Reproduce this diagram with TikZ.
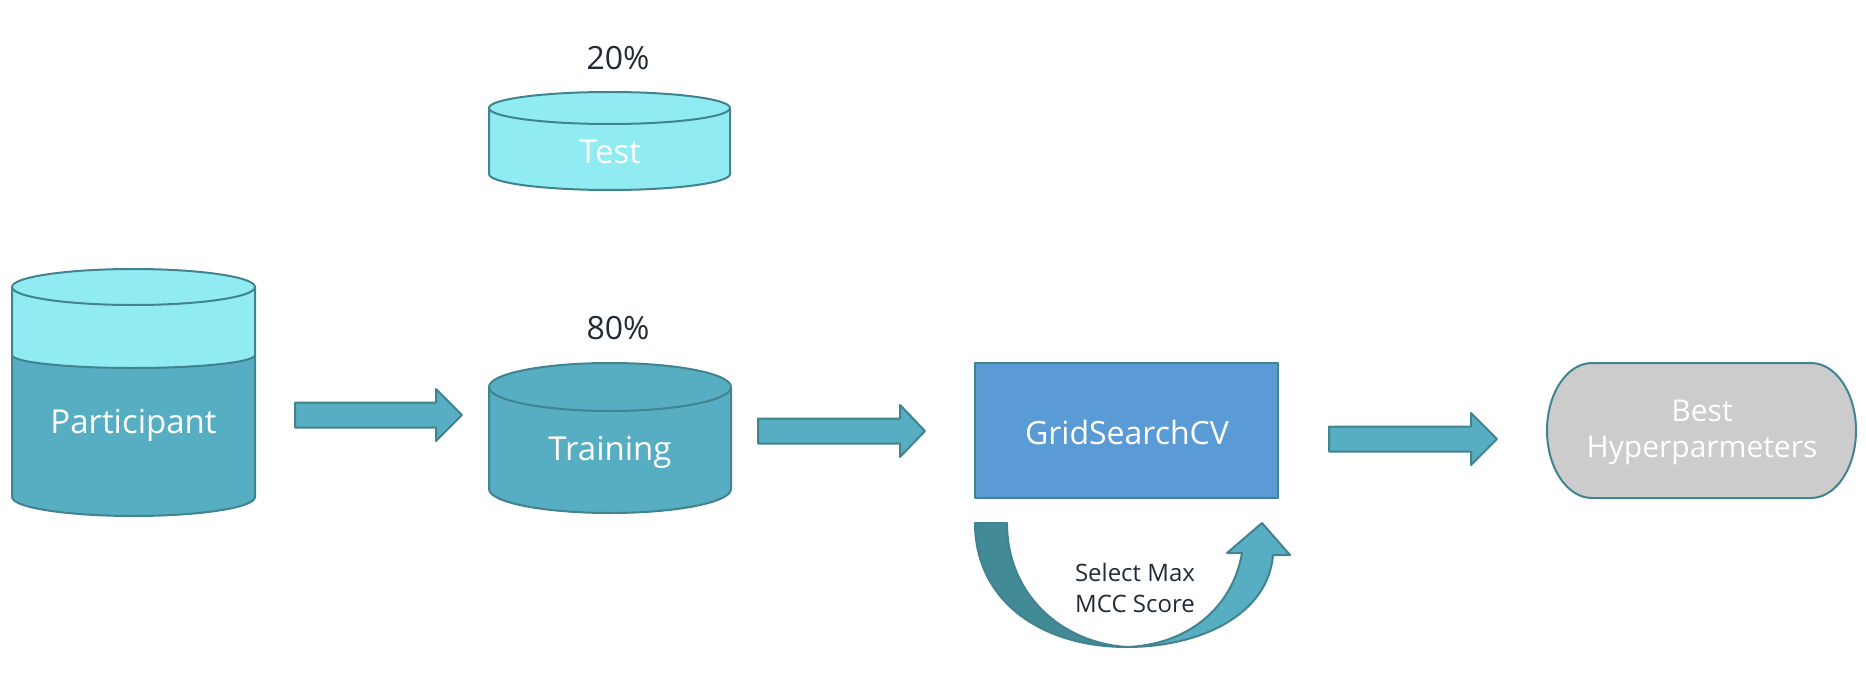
\documentclass[tikz,border=0pt]{standalone}
\usepackage{fontspec}
\setmainfont{Open Sans}
\definecolor{lightcyan}{HTML}{90EBF2}
\definecolor{tealfill}{HTML}{57ADC1}
\definecolor{tealline}{HTML}{41838F}
\definecolor{tealdark}{HTML}{428A96}
\definecolor{gridblue}{HTML}{5B9BD5}
\definecolor{bestgray}{HTML}{CCCCCC}
\definecolor{labeltext}{HTML}{222A35}
\tikzset{
  outline/.style={draw=tealline, line width=2pt, line join=round},
  blockarrow/.style={outline, fill=tealfill},
  whitelabel/.style={text=white, font=\fontsize{33}{40}\selectfont, inner sep=0pt},
  pctlabel/.style={text=labeltext, font=\fontsize{32}{38}\selectfont, inner sep=0pt},
  smalllabel/.style={text=labeltext, font=\fontsize{24}{31}\selectfont, inner sep=0pt, align=center}
}
\begin{document}
\begin{tikzpicture}[x=1pt, y=-1pt]
  \useasboundingbox (0,0) rectangle (1866,682);
  % participant cylinder
  \fill[tealfill] (12,355) arc (180:360:121.5pt and 13pt) -- (255,497) arc (360:180:121.5pt and 19pt) -- cycle;
  \fill[lightcyan] (12,287) -- (12,355) arc (180:360:121.5pt and 13pt) -- (255,287) -- cycle;
  \draw[outline] (12,355) arc (180:360:121.5pt and 13pt);
  \draw[outline] (12,287) -- (12,497) arc (180:360:121.5pt and 19pt) -- (255,287);
  \draw[outline, fill=lightcyan] (133.5,287) ellipse (121.5pt and 18pt);
  \node[whitelabel] (participant) at (133.5,425) {Participant};
  % test cylinder
  \draw[outline, fill=lightcyan] (489,108) -- (489,174) arc (180:360:120.5pt and 16pt) -- (730,108) -- cycle;
  \draw[outline, fill=lightcyan] (609.5,108) ellipse (120.5pt and 16pt);
  \node[whitelabel] (test) at (610,152) {Test};
  \node[pctlabel] (testpct) at (618,58) {20\%};
  % training cylinder
  \draw[outline, fill=tealfill] (489,387) -- (489,489) arc (180:360:121pt and 24pt) -- (731,387) -- cycle;
  \draw[outline, fill=tealfill] (610,387) ellipse (121pt and 24pt);
  \node[whitelabel] (training) at (610,452) {Training};
  \node[pctlabel] (trainpct) at (618,328) {80\%};
  % block arrows
  \foreach \xa/\xb/\xc/\yc in {295/436/462/415, 758/900/925/431, 1329/1471/1497/439}
    \draw[blockarrow] (\xa,\yc-12.5) -- (\xb,\yc-12.5) -- (\xb,\yc-26) -- (\xc,\yc)
      -- (\xb,\yc+26) -- (\xb,\yc+12.5) -- (\xa,\yc+12.5) -- cycle;
  % grid search
  \draw[outline, fill=gridblue] (975,363) rectangle (1278,498);
  \node[whitelabel, font=\fontsize{32}{38}\selectfont] (grid) at (1127,432) {GridSearchCV};
  % loop arrow
  \draw[outline, fill=tealdark] (975,523) .. controls (975,600) and (1040,647) .. (1127,647)
    .. controls (1062,643) and (1007,595) .. (1007,523) -- cycle;
  \draw[outline, fill=tealfill] (1127,647) .. controls (1200,647) and (1268,615) .. (1273,555)
    -- (1290,555) -- (1262,523) -- (1227,553) -- (1242,553)
    .. controls (1232,610) and (1185,645) .. (1127,647) -- cycle;
  \node[smalllabel] (score) at (1135,588) {Select Max\\MCC Score};
  % best hyperparameters
  \draw[outline, fill=bestgray] (1592,363) -- (1811,363) arc (90:-90:45pt and 67.5pt)
    -- (1592,498) arc (270:90:45pt and 67.5pt) -- cycle;
  \node[whitelabel, font=\fontsize{30}{36}\selectfont, align=center] (best) at (1702,432) {Best\\Hyperparmeters};
\end{tikzpicture}
\end{document}
